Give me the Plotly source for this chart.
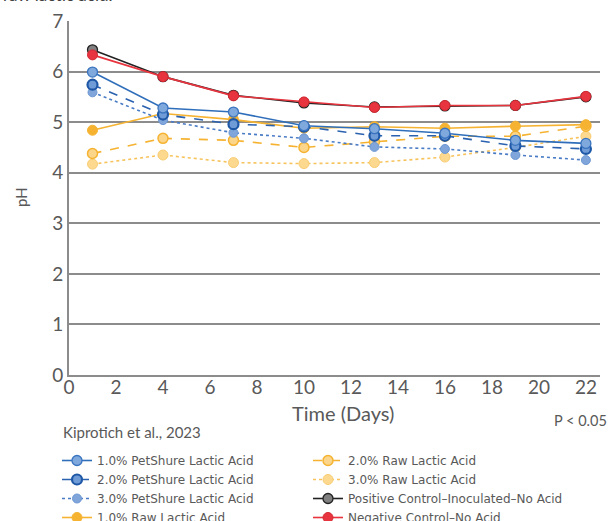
import plotly.graph_objects as go

days = [1, 4, 7, 10, 13, 16, 19, 22]

ps1 = [5.99, 5.28, 5.20, 4.93, 4.87, 4.78, 4.64, 4.58]
ps2 = [5.74, 5.15, 4.96, 4.91, 4.73, 4.73, 4.53, 4.47]
ps3 = [5.59, 5.04, 4.79, 4.68, 4.51, 4.47, 4.35, 4.25]
raw1 = [4.84, 5.17, 5.05, 4.88, 4.91, 4.88, 4.92, 4.95]
raw2 = [4.38, 4.68, 4.64, 4.50, 4.61, 4.72, 4.72, 4.92]
raw3 = [4.17, 4.35, 4.20, 4.18, 4.20, 4.31, 4.50, 4.72]
pos_ctrl = [6.43, 5.90, 5.53, 5.38, 5.30, 5.32, 5.33, 5.50]
neg_ctrl = [6.33, 5.90, 5.52, 5.40, 5.29, 5.33, 5.33, 5.51]

x_ticks = list(range(0, 23, 2))
y_ticks = list(range(0, 8))

names = {
    "ps1": "1.0% PetShure Lactic Acid",
    "ps2": "2.0% PetShure Lactic Acid",
    "ps3": "3.0% PetShure Lactic Acid",
    "raw1": "1.0% Raw Lactic Acid",
    "raw2": "2.0% Raw Lactic Acid",
    "raw3": "3.0% Raw Lactic Acid",
    "pos": "Positive Control\u2013Inoculated\u2013No Acid",
    "neg": "Negative Control\u2013No Acid",
}

FONT = "Lato"
LFONT = "DejaVu Sans"
TXT = "#595959"
W, H = 611, 521
L, R, T, B = 69, 11, 21, 146
PW, PH = W - L - R, H - T - B

fig = go.Figure()

def add(y, name, lc, dash, fill, bc, bw, legend, size=10, lw=1.6):
    fig.add_trace(go.Scatter(
        x=days, y=y, name=name, mode="lines+markers",
        line=dict(color=lc, width=lw, dash=dash),
        marker=dict(symbol="circle", size=size, color=fill,
                    line=dict(color=bc, width=bw)),
        legend=legend,
    ))

add(raw3, names["raw3"], "#F7C35C", "dot", "#FCD98F", "#F9CD73", 1, "legend2", size=10)
add(raw2, names["raw2"], "#F5B331", "dash", "#FBD58A", "#F5B331", 1.5, "legend2", size=10)
add(raw1, names["raw1"], "#F5B331", "solid", "#F5B331", "#F5B331", 1, "legend", size=10)
add(ps3, names["ps3"], "#4A7CC6", "dot", "#7FA5DA", "#6E98D3", 1, "legend", size=9)
add(ps2, names["ps2"], "#2A62B0", "dash", "#6F9BD6", "#1F58A6", 2.2, "legend", size=10)
add(ps1, names["ps1"], "#2F6EBA", "solid", "#7FA8DD", "#3A74BF", 1.3, "legend", size=10)
add(pos_ctrl, names["pos"], "#222222", "solid", "#808080", "#222222", 1.3, "legend2", size=10)
add(neg_ctrl, names["neg"], "#E8343E", "solid", "#E8343E", "#D42A33", 1, "legend2", size=10)

order1 = [names["ps1"], names["ps2"], names["ps3"], names["raw1"]]
order2 = [names["raw2"], names["raw3"], names["pos"], names["neg"]]
for tr in fig.data:
    if tr.name in order1:
        tr.legendrank = order1.index(tr.name) + 1
    else:
        tr.legendrank = order2.index(tr.name) + 1

legend_common = dict(
    font=dict(family=LFONT, size=12, color=TXT),
    bgcolor="rgba(0,0,0,0)",
    orientation="v",
    xref="container", yref="container",
    xanchor="left", yanchor="top",
    itemwidth=30,
    tracegroupgap=0,
    traceorder="normal",
)

def px(xpix):
    return (xpix - L) / PW

def py(ypix):
    return 1 - (ypix - T) / PH

fig.update_layout(
    width=W, height=H,
    margin=dict(l=L, r=R, t=T, b=B, autoexpand=False),
    paper_bgcolor="white", plot_bgcolor="white",
    font=dict(family=FONT, color=TXT),
    legend=dict(x=57 / W, y=1 - 446 / H, **legend_common),
    legend2=dict(x=308 / W, y=1 - 446 / H, **legend_common),
    xaxis=dict(
        range=[0, 22.6], tickvals=x_ticks,
        showgrid=False, zeroline=False,
        showline=True, linecolor="#8C8C8C", linewidth=2,
        ticks="", ticklabelstandoff=-6,
        tickfont=dict(family=FONT, size=19, color=TXT),
    ),
    yaxis=dict(
        range=[0, 7], tickvals=y_ticks,
        showgrid=True, gridcolor="#8C8C8C", gridwidth=2,
        zeroline=False,
        showline=True, linecolor="#8C8C8C", linewidth=2,
        ticks="", ticklabelstandoff=0,
        tickfont=dict(family=FONT, size=19, color=TXT),
    ),
    annotations=[
        dict(text="Time (Days)", xref="paper", yref="paper", x=px(343), y=py(413),
             xanchor="center", yanchor="middle", showarrow=False,
             font=dict(family=FONT, size=20, color=TXT)),
        dict(text="pH", xref="paper", yref="paper", x=px(21), y=py(197),
             xanchor="center", yanchor="middle", showarrow=False, textangle=-90,
             font=dict(family=FONT, size=15, color=TXT)),
        dict(text="P < 0.05", xref="paper", yref="paper", x=px(609), y=py(420),
             xanchor="right", yanchor="middle", showarrow=False,
             font=dict(family=FONT, size=14.5, color=TXT)),
        dict(text="Kiprotich et al., 2023", xref="paper", yref="paper",
             x=px(61), y=py(432),
             xanchor="left", yanchor="middle", showarrow=False,
             font=dict(family=FONT, size=15, color=TXT)),
        dict(text="raw lactic acid.", xref="paper", yref="paper",
             x=px(1), y=py(-5),
             xanchor="left", yanchor="middle", showarrow=False,
             font=dict(family=FONT, size=17, color="#404040")),
    ],
)

fig.write_html("out.html", config={"displayModeBar": False},
               post_script="document.body.style.margin='0px';")
